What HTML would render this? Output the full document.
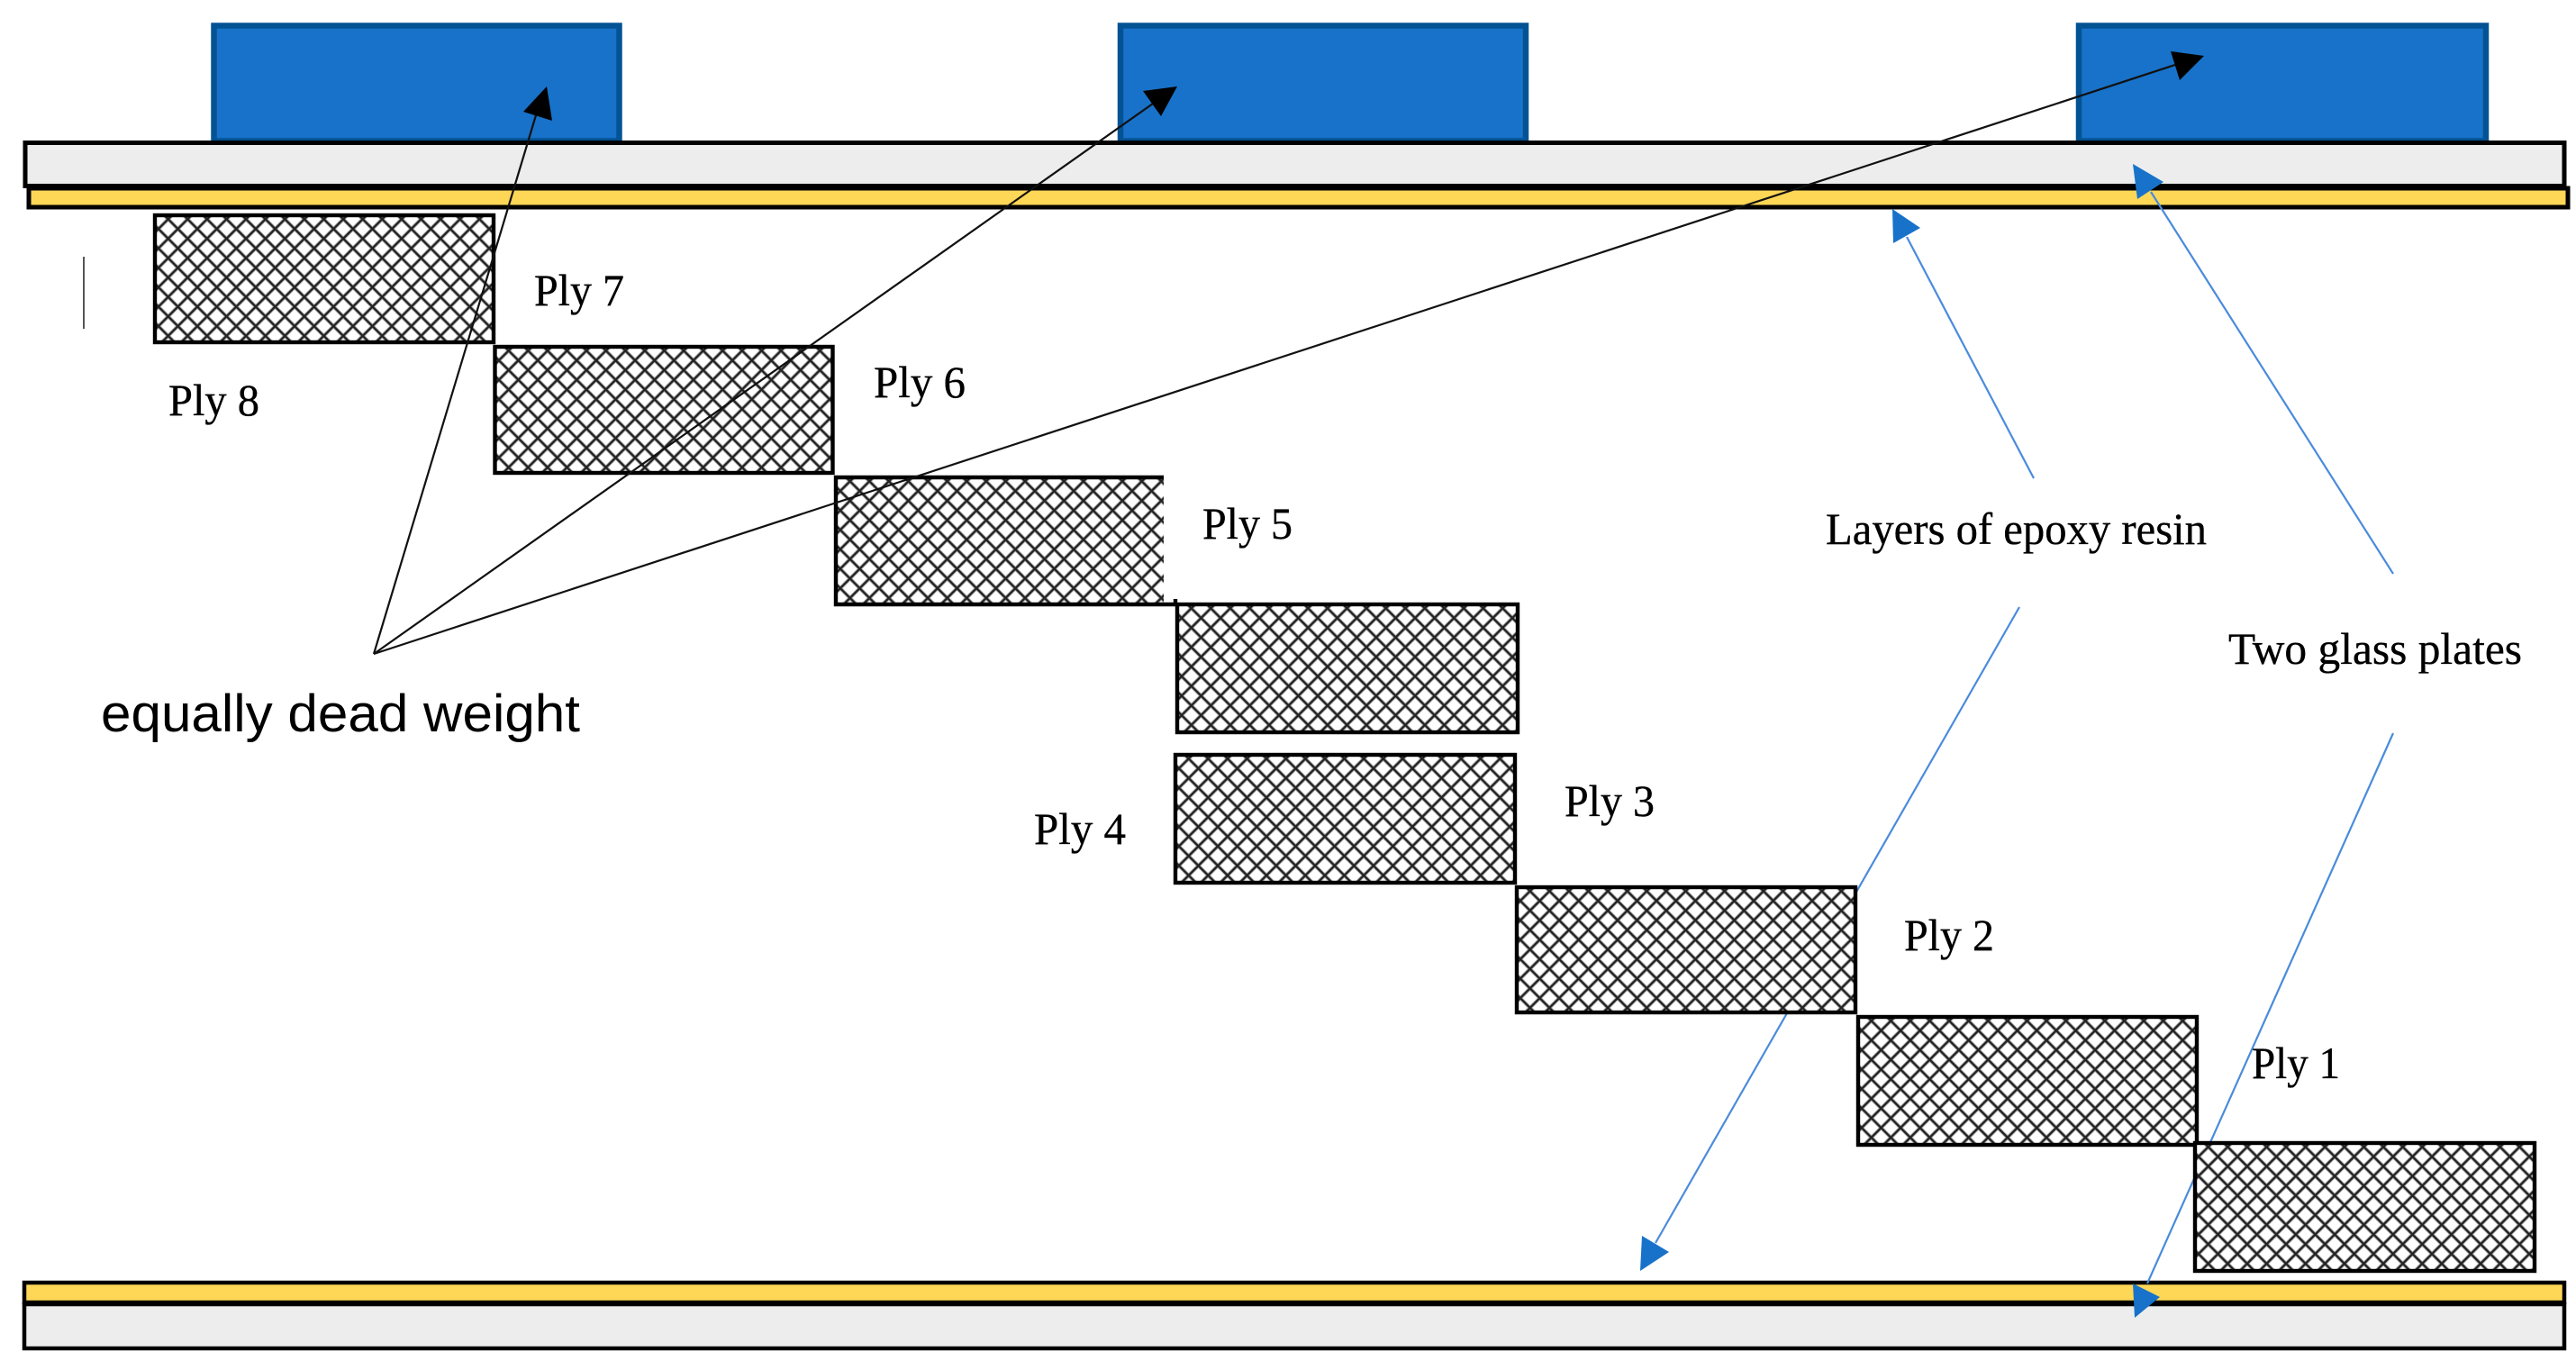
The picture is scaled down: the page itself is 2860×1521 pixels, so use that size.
<!DOCTYPE html>
<html>
<head>
<meta charset="utf-8">
<style>
html,body{margin:0;padding:0;background:#fff;}
svg{display:block;}
text{fill:#000;}
.s{font-family:"Liberation Serif",serif;font-size:50px;stroke:#000;stroke-width:0.35px;}
</style>
</head>
<body>
<svg width="2860" height="1521" viewBox="0 0 2860 1521" xmlns="http://www.w3.org/2000/svg">
<defs>
<pattern id="h0" patternUnits="userSpaceOnUse" width="21.6" height="21.6" patternTransform="translate(186.7,243.3)">
<rect width="21.6" height="21.6" fill="#fff"/>
<path d="M-1,-1L22.6,22.6M-1,22.6L22.6,-1" stroke="#aaa" stroke-width="4" fill="none"/>
<path d="M-1,-1L22.6,22.6M-1,22.6L22.6,-1" stroke="#222" stroke-width="2.3" fill="none"/>
</pattern>
<pattern id="h1" href="#h0" patternTransform="translate(564.7,389.3)"/>
<pattern id="h2" href="#h0" patternTransform="translate(943.7,534.3)"/>
<pattern id="h3" href="#h0" patternTransform="translate(1322.7,675.3)"/>
<pattern id="h4" href="#h0" patternTransform="translate(1319.7,842.3)"/>
<pattern id="h5" href="#h0" patternTransform="translate(1698.7,989.3)"/>
<pattern id="h6" href="#h0" patternTransform="translate(2077.7,1133.3)"/>
<pattern id="h7" href="#h0" patternTransform="translate(2451.7,1273.3)"/>
</defs>

<rect width="2860" height="1521" fill="#fff"/>

<!-- blue weights -->
<rect x="237.5" y="28.5" width="450" height="128" fill="#1872C9" stroke="#035394" stroke-width="6.5"/>
<rect x="1244" y="28.5" width="450" height="128" fill="#1872C9" stroke="#035394" stroke-width="6.5"/>
<rect x="2308" y="28.5" width="452" height="128" fill="#1872C9" stroke="#035394" stroke-width="6.5"/>

<!-- top plate -->
<rect x="28" y="158.5" width="2819" height="48" fill="#EDEDED" stroke="#000" stroke-width="5"/>
<rect x="32" y="209" width="2819" height="21" fill="#FFD757" stroke="#000" stroke-width="5"/>

<!-- bottom plate -->
<rect x="27" y="1424" width="2820" height="22" fill="#FFD757" stroke="#000" stroke-width="4.5"/>
<rect x="27" y="1448" width="2820" height="49" fill="#EDEDED" stroke="#000" stroke-width="4.5"/>

<!-- blue connector lines (behind the plies) -->
<g stroke="#4A8BDC" stroke-width="2.2" fill="none">
<line x1="2258" y1="531" x2="2117" y2="263"/>
<line x1="2657" y1="637" x2="2388" y2="213"/>
<line x1="2242" y1="674" x2="1838" y2="1380"/>
<line x1="2657" y1="814" x2="2384" y2="1425"/>
</g>

<!-- small stray tick -->
<line x1="93" y1="285" x2="93" y2="365" stroke="#444" stroke-width="1.8"/>

<!-- plies -->
<g stroke="#000" stroke-width="4.4">
<rect x="172" y="239" width="376" height="141" fill="url(#h0)"/>
<rect x="549.5" y="385" width="375" height="140" fill="url(#h1)"/>
<rect x="1307" y="671" width="378" height="142" fill="url(#h3)"/>
<rect x="1305" y="838" width="377" height="142" fill="url(#h4)"/>
<rect x="1684" y="985" width="376" height="139" fill="url(#h5)"/>
<rect x="2063" y="1129" width="376" height="142" fill="url(#h6)"/>
<rect x="2437" y="1269" width="377" height="142" fill="url(#h7)"/>
</g>
<!-- open-sided ply -->
<rect x="928" y="530" width="364" height="141" fill="url(#h2)"/>
<path d="M1292,530H928V671H1305V665" fill="none" stroke="#000" stroke-width="4.4"/>

<!-- black arrows -->
<g stroke="#111" stroke-width="2.2" fill="none">
<line x1="415" y1="726" x2="595" y2="128"/>
<line x1="415" y1="726" x2="1280" y2="115"/>
<line x1="415" y1="726" x2="2415" y2="72"/>
</g>
<polygon points="607,96 581,124 613,134" fill="#000"/>
<polygon points="1307,96 1269,101 1289,129" fill="#000"/>
<polygon points="2447,62 2410,57 2420,89" fill="#000"/>

<!-- blue arrowheads -->
<g fill="#1872C9">
<polygon points="2101,232 2132,253 2102,270"/>
<polygon points="2368,182 2402,202 2373,221"/>
<polygon points="1821,1411 1823,1372 1853,1390"/>
<polygon points="2370,1463 2368,1425 2398,1440"/>
</g>

<!-- labels -->
<text class="s" x="187" y="461" textLength="101" lengthAdjust="spacingAndGlyphs">Ply 8</text>
<text class="s" x="593" y="339" textLength="100" lengthAdjust="spacingAndGlyphs">Ply 7</text>
<text class="s" x="970" y="441" textLength="102" lengthAdjust="spacingAndGlyphs">Ply 6</text>
<text class="s" x="1335" y="598" textLength="100" lengthAdjust="spacingAndGlyphs">Ply 5</text>
<text class="s" x="1148" y="937" textLength="102" lengthAdjust="spacingAndGlyphs">Ply 4</text>
<text class="s" x="1737" y="906" textLength="100" lengthAdjust="spacingAndGlyphs">Ply 3</text>
<text class="s" x="2114" y="1055" textLength="100" lengthAdjust="spacingAndGlyphs">Ply 2</text>
<text class="s" x="2500" y="1197" textLength="98" lengthAdjust="spacingAndGlyphs">Ply 1</text>
<text class="s" x="2027" y="604" textLength="423" lengthAdjust="spacingAndGlyphs">Layers of epoxy resin</text>
<text class="s" x="2474" y="737" textLength="326" lengthAdjust="spacingAndGlyphs">Two glass plates</text>
<text x="112" y="812" font-family="'Liberation Sans',sans-serif" font-size="58" textLength="532" lengthAdjust="spacingAndGlyphs">equally dead weight</text>
</svg>
</body>
</html>
